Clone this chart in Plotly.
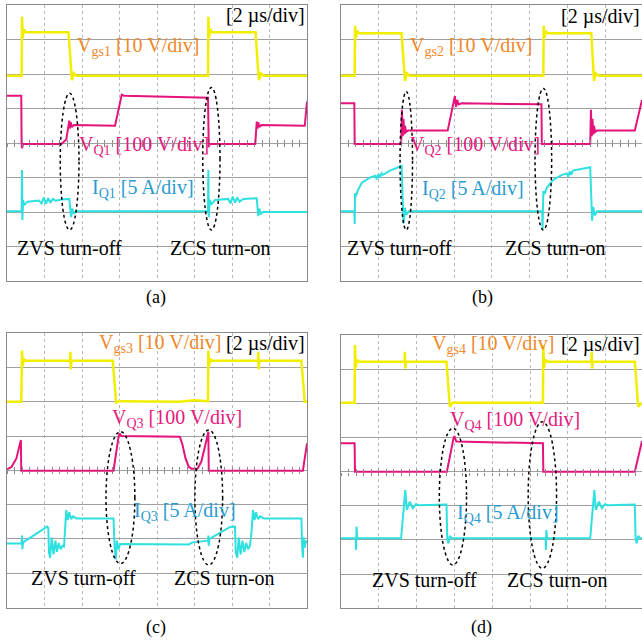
import plotly.graph_objects as go

# ---------------- data (screen divisions: x = time div [2 us/div], y = vertical div) -------------
A_VGS = [(0, 5.95), (0.39, 5.95), (0.40, 7.66), (0.42, 7.05), (0.45, 7.30), (0.50, 7.21), (1.64, 7.21),
         (1.70, 6.20), (1.73, 5.82), (1.78, 6.02), (1.85, 5.95), (5.36, 5.95), (5.37, 7.66), (5.39, 7.05),
         (5.42, 7.30), (5.47, 7.21), (6.63, 7.21), (6.69, 6.20), (6.72, 5.82), (6.77, 6.02), (6.85, 5.95),
         (8.0, 5.95)]
A_VQ = [(0, 5.37), (0.38, 5.37), (0.39, 3.97), (0.40, 3.85), (0.43, 3.97), (1.45, 3.97), (1.58, 4.10),
        (1.64, 4.45), (1.66, 4.65), (1.68, 4.42), (1.70, 4.60), (1.73, 4.46), (1.78, 4.52), (2.88, 4.50),
        (3.06, 5.40), (3.12, 5.37), (5.36, 5.31), (5.38, 3.88), (5.41, 3.97), (6.62, 3.97), (6.64, 4.30),
        (6.66, 4.62), (6.68, 4.42), (6.70, 4.60), (6.73, 4.46), (6.78, 4.52), (7.94, 4.50), (8.0, 5.20)]
A_IQ = [(0, 2.02), (0.39, 2.02), (0.40, 3.22), (0.41, 1.77), (0.43, 2.35), (0.46, 2.20), (0.55, 2.30),
        (0.85, 2.33), (0.92, 2.25), (0.98, 2.42), (1.04, 2.24), (1.10, 2.40), (1.16, 2.27), (1.22, 2.38),
        (1.30, 2.33), (1.45, 2.36), (1.66, 2.38), (1.69, 2.05), (1.71, 1.85), (1.74, 2.10), (1.78, 1.95),
        (1.84, 2.02), (5.36, 2.02), (5.37, 3.22), (5.38, 1.85), (5.41, 2.35), (5.45, 2.22), (5.55, 2.35),
        (5.90, 2.38), (5.96, 2.25), (6.02, 2.45), (6.08, 2.27), (6.14, 2.42), (6.20, 2.30), (6.30, 2.38),
        (6.66, 2.40), (6.68, 2.05), (6.70, 1.88), (6.73, 2.10), (6.77, 1.95), (6.83, 2.00), (8.0, 2.00)]

B_VGS = [(0, 5.95), (0.37, 5.95), (0.38, 7.40), (0.40, 7.05), (0.43, 7.25), (0.48, 7.18), (1.61, 7.18),
         (1.67, 6.20), (1.70, 5.80), (1.75, 6.02), (1.82, 5.95), (5.36, 5.95), (5.37, 7.40), (5.39, 7.05),
         (5.42, 7.25), (5.47, 7.18), (6.63, 7.18), (6.68, 6.20), (6.70, 5.80), (6.75, 6.02), (6.82, 5.95),
         (7.97, 5.95)]
B_VQ = [(0, 5.15), (0.36, 5.15), (0.37, 3.97), (1.60, 3.97), (1.62, 4.96), (1.64, 4.20), (1.66, 4.70),
        (1.68, 4.25), (1.70, 4.50), (1.73, 4.32), (1.78, 4.36), (2.83, 4.36), (3.02, 5.36), (3.05, 5.05),
        (3.08, 5.25), (3.12, 5.12), (3.20, 5.15), (5.31, 5.12), (5.32, 3.97), (6.60, 3.97), (6.62, 4.96),
        (6.64, 4.20), (6.66, 4.70), (6.68, 4.25), (6.70, 4.50), (6.73, 4.32), (6.78, 4.36), (7.78, 4.36),
        (7.97, 5.25)]
B_IQ = [(0, 2.02), (0.36, 2.02), (0.37, 1.65), (0.38, 2.55), (0.40, 2.45), (0.45, 2.62), (0.56, 2.85),
        (0.78, 3.00), (0.92, 3.05), (0.96, 2.95), (1.00, 3.10), (1.04, 3.00), (1.08, 3.12), (1.12, 3.08),
        (1.30, 3.20), (1.58, 3.32), (1.61, 3.36), (1.63, 2.30), (1.66, 1.67), (1.70, 2.12), (1.74, 1.92),
        (1.80, 2.02), (5.33, 2.02), (5.34, 1.50), (5.36, 2.60), (5.40, 2.55), (5.45, 2.70), (5.62, 2.93),
        (5.84, 3.07), (5.98, 3.12), (6.02, 3.02), (6.06, 3.18), (6.10, 3.08), (6.14, 3.20), (6.30, 3.24),
        (6.60, 3.30), (6.63, 2.40), (6.65, 1.75), (6.68, 2.15), (6.72, 1.90), (6.78, 2.02), (7.97, 2.02)]

C_VGS = [(0, 6.0), (0.38, 6.0), (0.40, 7.50), (0.42, 7.05), (0.45, 7.25), (0.50, 7.20), (1.68, 7.20),
         (1.69, 7.46), (1.70, 6.95), (1.72, 7.20), (2.82, 7.20), (2.88, 6.30), (2.91, 5.98), (3.0, 6.02),
         (4.6, 6.0), (5.0, 6.05), (5.36, 6.02), (5.37, 7.50), (5.39, 7.05), (5.42, 7.25), (5.47, 7.20),
         (6.69, 7.20), (6.70, 7.46), (6.71, 6.95), (6.73, 7.20), (7.85, 7.20), (7.91, 6.30), (7.94, 6.00),
         (8.0, 6.0)]
C_VQ = [(0, 4.03), (0.12, 4.10), (0.25, 4.35), (0.33, 4.75), (0.37, 4.89), (0.38, 3.99), (2.84, 3.99),
        (2.97, 4.95), (3.00, 5.08), (3.05, 5.00), (4.61, 4.98), (4.68, 4.75), (4.76, 4.35), (4.85, 4.10),
        (4.92, 4.05), (5.08, 4.05), (5.18, 4.25), (5.28, 4.70), (5.37, 5.13), (5.38, 3.99), (7.89, 3.99),
        (8.0, 4.79)]
C_IQ = [(0, 1.87), (0.39, 1.87), (0.40, 2.10), (0.41, 1.70), (0.43, 1.90), (0.50, 1.95), (0.85, 2.20),
        (1.07, 2.36), (1.10, 2.32), (1.12, 1.60), (1.15, 1.45), (1.19, 2.05), (1.24, 1.55), (1.29, 1.95),
        (1.33, 1.62), (1.38, 1.88), (1.43, 1.70), (1.48, 1.80), (1.52, 1.78), (1.55, 2.20), (1.58, 2.84),
        (1.62, 2.55), (1.66, 2.78), (1.71, 2.58), (1.76, 2.66), (1.85, 2.60), (2.84, 2.60), (2.87, 1.75),
        (2.90, 1.40), (2.93, 1.95), (2.97, 1.70), (3.02, 1.85), (4.85, 1.84), (4.95, 1.90), (5.30, 1.93),
        (5.36, 1.95), (5.37, 2.10), (5.38, 1.80), (5.40, 2.00), (5.65, 2.15), (5.95, 2.35), (6.08, 2.36),
        (6.10, 1.60), (6.14, 1.45), (6.18, 2.05), (6.23, 1.55), (6.28, 1.95), (6.33, 1.62), (6.38, 1.88),
        (6.43, 1.70), (6.48, 1.80), (6.52, 2.20), (6.56, 2.84), (6.60, 2.55), (6.64, 2.78), (6.69, 2.58),
        (6.75, 2.66), (6.85, 2.60), (7.85, 2.60), (7.87, 1.80), (7.89, 1.45), (7.91, 2.05), (7.94, 1.75),
        (7.97, 1.95), (8.0, 1.88)]

D_VGS = [(0, 6.02), (0.36, 6.02), (0.37, 7.71), (0.39, 7.05), (0.42, 7.28), (0.48, 7.22), (1.68, 7.22),
         (1.69, 7.51), (1.70, 7.02), (1.72, 7.22), (2.79, 7.22), (2.85, 6.30), (2.88, 5.90), (2.95, 6.02),
         (5.34, 6.02), (5.35, 7.71), (5.37, 7.05), (5.40, 7.28), (5.46, 7.22), (6.62, 7.22), (6.63, 7.51),
         (6.64, 7.02), (6.66, 7.22), (7.77, 7.22), (7.83, 6.30), (7.86, 5.90), (7.96, 6.02)]
D_VQ = [(0, 4.83), (0.36, 4.83), (0.37, 4.00), (2.80, 4.00), (2.97, 4.95), (3.00, 5.04), (3.05, 4.88),
        (5.34, 4.83), (5.35, 4.00), (7.77, 4.00), (7.96, 4.90)]
D_IQ = [(0, 2.05), (0.39, 2.05), (0.40, 1.71), (0.41, 2.39), (0.43, 2.05), (1.59, 2.05), (1.70, 3.46),
        (1.74, 2.88), (1.82, 3.12), (1.90, 2.93), (1.98, 3.05), (2.05, 3.02), (2.79, 3.04), (2.81, 2.05),
        (2.84, 1.90), (2.88, 2.12), (2.93, 2.05), (5.41, 2.05), (5.42, 1.71), (5.43, 2.29), (5.45, 2.05),
        (6.59, 2.05), (6.70, 3.46), (6.74, 2.88), (6.82, 3.12), (6.90, 2.93), (6.98, 3.05), (7.05, 3.02),
        (7.77, 3.04), (7.79, 2.05), (7.82, 1.90), (7.86, 2.12), (7.91, 2.05), (7.96, 2.05)]

PANEL_NAMES = ["(a)", "(b)", "(c)", "(d)"]
GATE_LABELS = ["V<sub>gs1</sub> [10 V/div]", "V<sub>gs2</sub> [10 V/div]",
               "V<sub>gs3</sub> [10 V/div]", "V<sub>gs4</sub> [10 V/div]"]
VQ_LABELS = ["V<sub>Q1</sub> [100 V/div]", "V<sub>Q2</sub> [100 V/div]",
             "V<sub>Q3</sub> [100 V/div]", "V<sub>Q4</sub> [100 V/div]"]
IQ_LABELS = ["I<sub>Q1</sub> [5 A/div]", "I<sub>Q2</sub> [5 A/div]",
             "I<sub>Q3</sub> [5 A/div]", "I<sub>Q4</sub> [5 A/div]"]
TIME_LABEL = "[2 \u00b5s/div]"
ZVS_LABEL = "ZVS turn-off"
ZCS_LABEL = "ZCS turn-on"

# ---------------- layout ----------------
W = H = 642
# pixel boxes of the four scope screens: (left, top, right, bottom) and x range in divisions
BOXES = [(7, 5, 307, 281, 8.0), (340.7, 5, 642, 281, 7.97),
         (7, 333.3, 307, 607.5, 8.0), (341, 335, 642, 608.3, 7.96)]
# label positions (div coords): gate, VQ, IQ, time, ZVS, ZCS
TXT_POS = [
    [(1.82, 6.79), (1.86, 3.94), (2.22, 2.69), (8.0, 7.71), (0.22, 0.95), (4.30, 0.95)],
    [(1.79, 6.79), (1.79, 3.94), (2.10, 2.64), (7.97, 7.66), (0.11, 0.95), (4.28, 0.95)],
    [(2.39, 7.71), (2.75, 5.52), (3.33, 2.79), (8.0, 7.71), (0.58, 0.85), (4.39, 0.85)],
    [(2.35, 7.71), (2.82, 5.51), (3.01, 2.78), (7.96, 7.71), (0.77, 0.83), (4.33, 0.83)],
]
ELLIPSES = [
    [(1.42, 1.48, 1.92, 5.44), (5.22, 1.48, 5.68, 5.61)],
    [(1.57, 1.48, 1.90, 5.49), (5.14, 1.48, 5.58, 5.58)],
    [(2.64, 1.28, 3.41, 5.13), (5.01, 1.24, 5.75, 5.18)],
    [(2.60, 1.27, 3.32, 5.27), (4.95, 1.17, 5.70, 5.46)],
]
CAPTION_POS = [(156, 298), (482, 298), (156, 627), (481, 627)]
CENTER_LINE = 4.0   # horizontal screen axis carrying the minor ticks
MINOR_DTICK = 0.2

YELLOW = "#F2EE00"
MAGENTA = "#E5137C"
CYAN = "#2FE0E0"
ORANGE_T = "#F0882A"
MAGENTA_T = "#E5197E"
BLUE_T = "#2A9BD0"
FONT = "Liberation Serif"

fig = go.Figure()
DATA = [(A_VGS, A_VQ, A_IQ), (B_VGS, B_VQ, B_IQ), (C_VGS, C_VQ, C_IQ), (D_VGS, D_VQ, D_IQ)]

annotations = []
shapes = []
layout_axes = {}
for i, (box, traces) in enumerate(zip(BOXES, DATA)):
    l, t, r, b, xr = box
    n = i + 1
    xa = "xaxis" if i == 0 else f"xaxis{n}"
    ya = "yaxis" if i == 0 else f"yaxis{n}"
    xref = "x" if i == 0 else f"x{n}"
    yref = "y" if i == 0 else f"y{n}"
    layout_axes[xa] = dict(domain=[l / W, r / W], range=[0, xr], anchor=yref, dtick=1, tick0=0,
                           showgrid=True, gridcolor="#b8b8b8", griddash="dot", gridwidth=1,
                           showticklabels=False, ticks="", zeroline=False,
                           showline=True, mirror=True, linecolor="#8a8a8a", linewidth=1)
    layout_axes[ya] = dict(domain=[1 - b / H, 1 - t / H], range=[0, 8], anchor=xref, dtick=1, tick0=0,
                           showgrid=True, gridcolor="#a0a0a0", gridwidth=1,
                           showticklabels=False, ticks="", zeroline=False,
                           showline=True, mirror=True, linecolor="#8a8a8a", linewidth=1)
    # minor ticks straddling the centre horizontal line (two free overlay axes)
    ypos = 1 - (b - CENTER_LINE / 8 * (b - t)) / H
    for k, tk in enumerate(("outside", "inside")):
        ax_id = 4 + 4 * k + n
        layout_axes[f"xaxis{ax_id}"] = dict(overlaying=xref, anchor="free", position=ypos,
                                            range=[0, xr], dtick=MINOR_DTICK, tick0=0,
                                            ticks=tk, ticklen=3, tickwidth=1, tickcolor="#8a8a8a",
                                            showticklabels=False, showgrid=False, zeroline=False,
                                            showline=False)
    for pts, col, wdt in zip(traces, (YELLOW, MAGENTA, CYAN), (2.5, 2, 2)):
        fig.add_trace(go.Scatter(x=[p[0] for p in pts], y=[p[1] for p in pts], mode="lines",
                                 line=dict(color=col, width=wdt), xaxis=xref, yaxis=yref,
                                 hoverinfo="skip", showlegend=False))
    pos = TXT_POS[i]
    texts = [(GATE_LABELS[i], ORANGE_T, "left"), (VQ_LABELS[i], MAGENTA_T, "left"),
             (IQ_LABELS[i], BLUE_T, "left"), (TIME_LABEL, "black", "right"),
             (ZVS_LABEL, "black", "left"), (ZCS_LABEL, "black", "left")]
    for (txt, col, anc), (px, py) in zip(texts, pos):
        xp = (l + px / xr * (r - l)) / W
        yp = 1 - (b - py / 8 * (b - t)) / H
        annotations.append(dict(x=xp, y=yp, xref="paper", yref="paper", text=txt, showarrow=False,
                                xanchor=anc, yanchor="middle",
                                font=dict(family=FONT, size=20, color=col)))
    for (x0, y0, x1, y1) in ELLIPSES[i]:
        shapes.append(dict(type="circle", xref=xref, yref=yref, x0=x0, y0=y0, x1=x1, y1=y1,
                           line=dict(color="black", width=1.5, dash="dot")))
    cx, cy = CAPTION_POS[i]
    annotations.append(dict(x=cx / W, y=1 - cy / H, xref="paper", yref="paper", text=PANEL_NAMES[i],
                            showarrow=False, xanchor="center", yanchor="middle",
                            font=dict(family=FONT, size=18, color="black")))

# dummy invisible traces so the overlay tick axes are drawn
for n in range(1, 5):
    for k in range(2):
        ax_id = 4 + 4 * k + n
        fig.add_trace(go.Scatter(x=[None], y=[None], xaxis=f"x{ax_id}",
                                 yaxis="y" if n == 1 else f"y{n}", showlegend=False,
                                 hoverinfo="skip"))

fig.update_layout(**layout_axes)
fig.update_layout(width=W, height=H, margin=dict(l=0, r=0, t=0, b=0),
                  paper_bgcolor="white", plot_bgcolor="white",
                  annotations=annotations, shapes=shapes, showlegend=False)

fig.write_html("out.html", config={"displayModeBar": False},
               post_script="document.body.style.margin='0';")
